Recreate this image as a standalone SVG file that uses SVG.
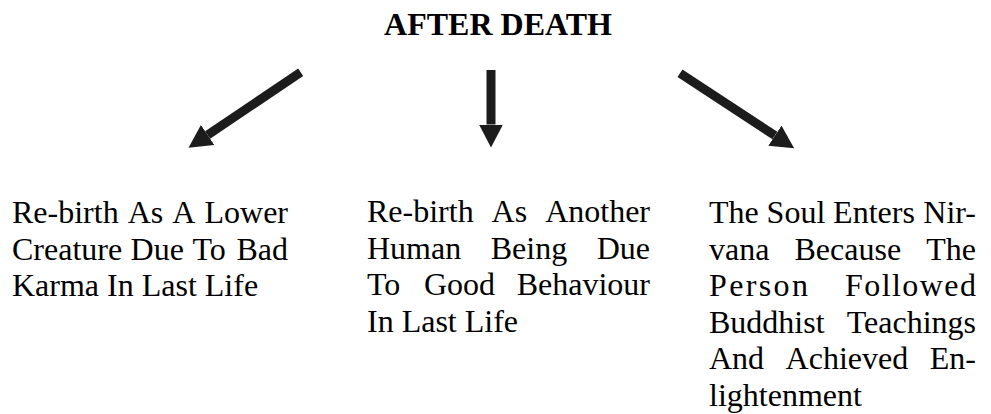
<svg xmlns="http://www.w3.org/2000/svg" width="991" height="414" viewBox="0 0 991 414">
<style>
text { font-family: "Liberation Serif", "Times New Roman", serif; font-size: 32px; fill: #000; }
.title { font-weight: bold; text-anchor: middle; }
.end { text-anchor: end; }
.arrow { stroke: #1c1c1c; stroke-width: 9; fill: none; marker-end: url(#head); }
</style>
<defs>
<marker id="head" markerUnits="userSpaceOnUse" markerWidth="24" markerHeight="26" refX="0" refY="12.5" orient="auto">
<path d="M0,0.5 L23,12.5 L0,24.5 Z" fill="#1c1c1c"/>
</marker>
</defs>
<rect width="991" height="414" fill="#fff"/>
<g id="title">
<text class="title" x="498" y="35">AFTER DEATH</text>
</g>
<g id="connectors">
<line class="arrow" x1="300.7" y1="72.3" x2="207.6" y2="135"/>
<line class="arrow" x1="491" y1="70" x2="491" y2="124.5"/>
<line class="arrow" x1="680" y1="73.3" x2="774.9" y2="135.6"/>
</g>
<g id="node-lower">
<text y="223"><tspan x="12">Re-birth</tspan><tspan x="127.7">As</tspan><tspan x="172.3">A</tspan><tspan class="end" x="288" text-anchor="end">Lower</tspan></text>
<text y="259.6"><tspan x="12">Creature</tspan><tspan x="130.6">Due</tspan><tspan x="192.4">To</tspan></text>
<text class="end" x="288" y="259.6">Bad</text>
<text x="12" y="296.2">Karma In Last Life</text>
</g>
<g id="node-human">
<text x="367" y="222">Re-birth</text>
<text x="491.6" y="222">As</text>
<text class="end" x="650" y="222">Another</text>
<text x="367" y="258.6">Human</text>
<text x="490.7" y="258.6">Being</text>
<text class="end" x="650" y="258.6">Due</text>
<text x="367" y="295.2">To</text>
<text x="424" y="295.2">Good</text>
<text class="end" x="650" y="295.2">Behaviour</text>
<text x="367" y="331.8">In Last Life</text>
</g>
<g id="node-nirvana">
<text x="709" y="223">The</text>
<text x="766.6" y="223">Soul</text>
<text x="833.1" y="223">Enters</text>
<text class="end" x="976" y="223">Nir-</text>
<text x="709" y="259.6">vana</text>
<text x="794.5" y="259.6">Because</text>
<text class="end" x="976" y="259.6">The</text>
<text x="709" y="296.2" textLength="99" lengthAdjust="spacing">Person</text>
<text x="845" y="296.2" textLength="131" lengthAdjust="spacing">Followed</text>
<text x="709" y="332.8">Buddhist</text>
<text class="end" x="976" y="332.8">Teachings</text>
<text x="709" y="369.4">And</text>
<text x="785.6" y="369.4">Achieved</text>
<text class="end" x="976" y="369.4">En-</text>
<text x="709" y="406">lightenment</text>
</g>
</svg>
